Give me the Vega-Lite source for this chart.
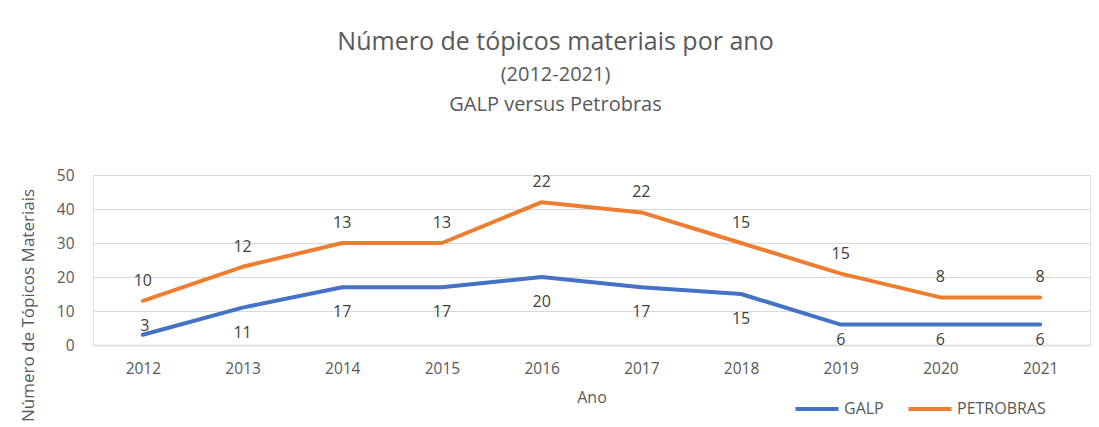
{
  "$schema": "https://vega.github.io/schema/vega-lite/v6.json",
  "width": 997,
  "height": 170,
  "autosize": {"type": "none"},
  "padding": {"left": 93, "top": 175, "right": 9, "bottom": 82},
  "background": "white",
  "title": {
    "text": "Número  de tópicos materiais por ano",
    "subtitle": ["(2012-2021)", "GALP versus Petrobras"],
    "anchor": "middle",
    "dx": -36,
    "offset": 53,
    "font": "Open Sans",
    "fontSize": 25,
    "fontWeight": "normal",
    "color": "#595959",
    "subtitleFont": "Open Sans",
    "subtitleFontSize": 20,
    "subtitleColor": "#595959",
    "subtitleLineHeight": 30,
    "subtitlePadding": 10
  },
  "data": {
    "values": [
      {"ano": "2012", "serie": "GALP", "valor": 3},
      {"ano": "2013", "serie": "GALP", "valor": 11},
      {"ano": "2014", "serie": "GALP", "valor": 17},
      {"ano": "2015", "serie": "GALP", "valor": 17},
      {"ano": "2016", "serie": "GALP", "valor": 20},
      {"ano": "2017", "serie": "GALP", "valor": 17},
      {"ano": "2018", "serie": "GALP", "valor": 15},
      {"ano": "2019", "serie": "GALP", "valor": 6},
      {"ano": "2020", "serie": "GALP", "valor": 6},
      {"ano": "2021", "serie": "GALP", "valor": 6},
      {"ano": "2012", "serie": "PETROBRAS", "valor": 10},
      {"ano": "2013", "serie": "PETROBRAS", "valor": 12},
      {"ano": "2014", "serie": "PETROBRAS", "valor": 13},
      {"ano": "2015", "serie": "PETROBRAS", "valor": 13},
      {"ano": "2016", "serie": "PETROBRAS", "valor": 22},
      {"ano": "2017", "serie": "PETROBRAS", "valor": 22},
      {"ano": "2018", "serie": "PETROBRAS", "valor": 15},
      {"ano": "2019", "serie": "PETROBRAS", "valor": 15},
      {"ano": "2020", "serie": "PETROBRAS", "valor": 8},
      {"ano": "2021", "serie": "PETROBRAS", "valor": 8}
    ]
  },
  "transform": [
    {"stack": "valor", "groupby": ["ano"], "sort": [{"field": "serie", "order": "ascending"}], "as": ["y0", "y1"]}
  ],
  "encoding": {
    "x": {
      "field": "ano", "type": "ordinal",
      "scale": {"type": "point", "padding": 0.5},
      "axis": {
        "title": "Ano", "labelAngle": 0, "ticks": false, "domain": true,
        "domainColor": "#d9d9d9", "domainWidth": 1.5, "grid": false,
        "labelFont": "Open Sans", "labelFontSize": 15.5, "labelColor": "#595959",
        "labelPadding": 16,
        "titleFont": "Open Sans", "titleFontSize": 16, "titleFontWeight": "normal",
        "titleColor": "#595959", "titlePadding": 13
      }
    },
    "y": {
      "field": "y1", "type": "quantitative",
      "scale": {"domain": [0, 50]},
      "axis": {
        "title": "Número de Tópicos Materiais", "values": [0, 10, 20, 30, 40, 50],
        "ticks": false, "domain": false, "grid": true, "gridColor": "#d9d9d9",
        "labelFont": "Open Sans", "labelFontSize": 15.5, "labelColor": "#595959",
        "labelPadding": 19,
        "titleFont": "Open Sans", "titleFontSize": 17, "titleFontWeight": "normal",
        "titleColor": "#595959", "titleX": -56, "titleY": 130
      }
    }
  },
  "layer": [
    {
      "mark": {"type": "line", "strokeWidth": 4, "strokeCap": "round", "strokeJoin": "round"},
      "encoding": {
        "color": {
          "field": "serie", "type": "nominal",
          "scale": {"domain": ["GALP", "PETROBRAS"], "range": ["#4472c4", "#ed7d31"]},
          "legend": {
            "title": null, "orient": "none", "direction": "horizontal",
            "legendX": 700, "legendY": 210,
            "symbolType": "stroke", "symbolSize": 1850, "symbolStrokeWidth": 4,
            "labelFont": "Open Sans", "labelFontSize": 16, "labelColor": "#595959",
            "columnPadding": 16, "labelOffset": 3
          }
        }
      }
    },
    {
      "transform": [{"filter": "datum.serie === 'PETROBRAS'"}],
      "mark": {"type": "text", "dy": -20, "font": "Open Sans", "fontSize": 16, "color": "#404040"},
      "encoding": {"text": {"field": "valor", "type": "quantitative"}}
    },
    {
      "transform": [{"filter": "datum.serie === 'GALP' && datum.ano > '2012' && datum.ano < '2019'"}],
      "mark": {"type": "text", "dy": 25, "font": "Open Sans", "fontSize": 16, "color": "#404040"},
      "encoding": {"text": {"field": "valor", "type": "quantitative"}}
    },
    {
      "transform": [{"filter": "datum.serie === 'GALP' && datum.ano >= '2019'"}],
      "mark": {"type": "text", "dy": 15, "font": "Open Sans", "fontSize": 16, "color": "#404040"},
      "encoding": {"text": {"field": "valor", "type": "quantitative"}}
    },
    {
      "transform": [{"filter": "datum.serie === 'GALP' && datum.ano === '2012'"}],
      "mark": {"type": "text", "dy": -9, "dx": 2, "font": "Open Sans", "fontSize": 16, "color": "#404040"},
      "encoding": {"text": {"field": "valor", "type": "quantitative"}}
    }
  ]
}
